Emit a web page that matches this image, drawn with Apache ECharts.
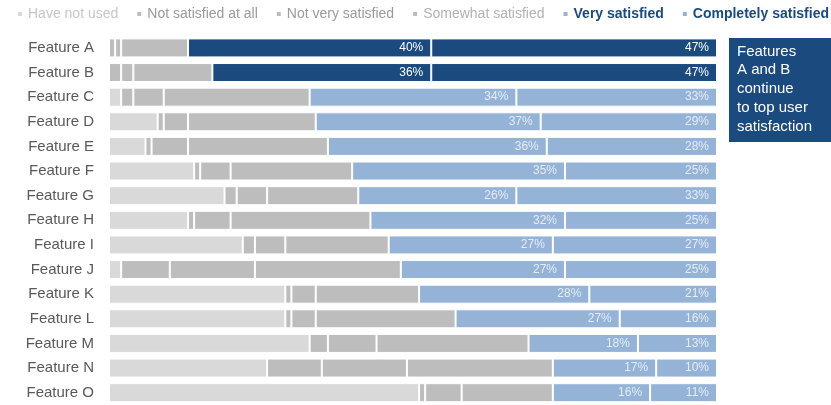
<!DOCTYPE html>
<html>
<head>
<meta charset="utf-8">
<script src="https://cdn.jsdelivr.net/npm/echarts@6/dist/echarts.min.js"></script>
<style>
  html, body { margin: 0; padding: 0; background: #fff; }
  #chart { width: 831px; height: 405px; }
</style>
</head>
<body>
<div id="chart"></div>
<script>
  // values in % of respondents
  var features = ['Feature A', 'Feature B', 'Feature C', 'Feature D', 'Feature E',
    'Feature F', 'Feature G', 'Feature H', 'Feature I', 'Feature J',
    'Feature K', 'Feature L', 'Feature M', 'Feature N', 'Feature O']
  var haveNotUsed = [0, 0, 2, 8, 6, 14, 19, 13, 22, 2, 29, 29, 33, 26, 51]
  var notAtAll = [1, 2, 2, 1, 1, 1, 2, 1, 2, 8, 1, 1, 3, 9, 1]
  var notVery = [1, 2, 5, 4, 6, 5, 5, 6, 5, 14, 4, 4, 8, 14, 6]
  var somewhat = [11, 13, 24, 21, 23, 20, 15, 23, 17, 24, 17, 23, 25, 24, 15]
  var very = [40, 36, 34, 37, 36, 35, 26, 32, 27, 27, 28, 27, 18, 17, 16]
  var completely = [47, 47, 33, 29, 28, 25, 33, 25, 27, 25, 21, 16, 13, 10, 11]
  var highlighted = ['Feature A', 'Feature B']
  var noteLines = ['Features', 'A and B', 'continue', 'to top user', 'satisfaction']

  var DARK = '#1a4a7e'
  var LIGHT = '#95b3d7'
  var GREY = '#bdbdbd'
  var PALE = '#d9d9d9'
  var font = 'Liberation Sans, Arial, Helvetica, sans-serif'

  function greySeries(name, values, color) {
    return {
      name: name, type: 'bar', stack: 'all', barWidth: 19,
      itemStyle: { color: color, borderColor: '#fff', borderWidth: 1 },
      data: values.map(function (v) { return v === 0 ? '-' : v })
    }
  }

  function blueSeries(name, values) {
    return {
      name: name, type: 'bar', stack: 'all', barWidth: 19,
      itemStyle: { color: LIGHT, borderColor: '#fff', borderWidth: 1 },
      label: {
        show: true, position: 'insideRight', distance: 8,
        formatter: '{c}%', fontFamily: font, fontSize: 12, color: '#e4ecf6'
      },
      data: values.map(function (v, i) {
        if (highlighted.indexOf(features[i]) >= 0) {
          return { value: v, itemStyle: { color: DARK }, label: { color: '#fff' } }
        }
        return v
      })
    }
  }

  var chart = echarts.init(document.getElementById('chart'))
  chart.setOption({
    animation: false,
    textStyle: { fontFamily: font },
    legend: {
      left: 11, top: 2, width: 830, icon: 'rect', itemWidth: 6, itemHeight: 6, itemGap: 17,
      textStyle: { fontFamily: font, fontSize: 14 },
      data: [
        { name: 'Have not used', itemStyle: { color: PALE }, textStyle: { color: '#c6c6c6' } },
        { name: 'Not satisfied at all', textStyle: { color: '#9a9a9a' } },
        { name: 'Not very satisfied', textStyle: { color: '#9a9a9a' } },
        { name: 'Somewhat satisfied', textStyle: { color: '#b2b2b2' } },
        { name: 'Very satisfied', textStyle: { color: DARK, fontWeight: 'bold' } },
        { name: 'Completely satisfied', textStyle: { color: DARK, fontWeight: 'bold' } }
      ]
    },
    grid: { left: 109, right: 114, top: 35.6, height: 371.6 },
    xAxis: { type: 'value', min: 0, max: 100, show: false },
    yAxis: {
      type: 'category', inverse: true, data: features,
      axisLine: { show: false }, axisTick: { show: false },
      axisLabel: { margin: 15, fontSize: 15, color: '#595959', fontFamily: font }
    },
    series: [
      greySeries('Have not used', haveNotUsed, PALE),
      greySeries('Not satisfied at all', notAtAll, GREY),
      greySeries('Not very satisfied', notVery, GREY),
      greySeries('Somewhat satisfied', somewhat, GREY),
      blueSeries('Very satisfied', very),
      blueSeries('Completely satisfied', completely)
    ],
    graphic: [
      { type: 'rect', left: 729, top: 38, shape: { width: 102, height: 104 }, style: { fill: DARK } },
      {
        type: 'text', left: 737, top: 42,
        style: { text: noteLines.join('\n'), fill: '#fff', font: '15px ' + font, lineHeight: 18.8 }
      }
    ]
  })
</script>
</body>
</html>
